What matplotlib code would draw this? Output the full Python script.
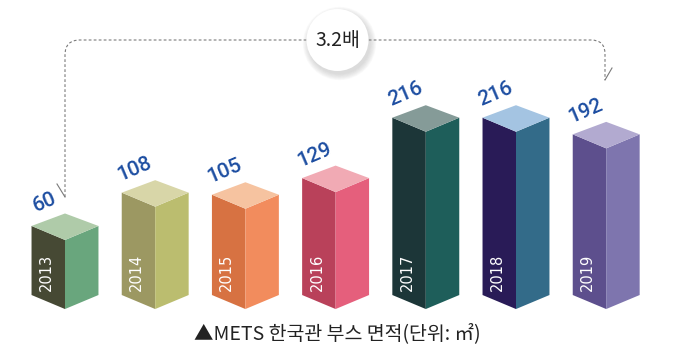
import matplotlib.pyplot as plt
from matplotlib.patches import Polygon, Circle, PathPatch
from matplotlib.path import Path

years = ["2013", "2014", "2015", "2016", "2017", "2018", "2019"]
areas = [60, 108, 105, 129, 216, 216, 192]

top_colors = ["#afcba9", "#d8d6a8", "#f6c3a0", "#f1aab4", "#859b98", "#a4c4e2", "#b2aad0"]
left_colors = ["#464934", "#9c9862", "#d77242", "#b9415a", "#1c3638", "#291b57", "#5d4f8d"]
right_colors = ["#69a67d", "#bbbd6f", "#f28c5d", "#e55f7c", "#1e5e5a", "#336b89", "#7e75ae"]

caption = "▲METS 한국관 부스 면적(단위: ㎡)"
ratio_label = "3.2배"

fig = plt.figure(figsize=(6.74, 3.59), dpi=100)

# main axes: x = bar index, y = area value
ax = fig.add_axes([0, 0, 1, 1])
ax.set_xlim(-0.7206, 6.7517)
ax.set_ylim(-131.7, 385.6)
ax.axis("off")

half = 0.371      # half width of a box (front edge to side edge)
front = 20.2      # how far the front corner sits below the side corners
back = 18.0       # how far the back corner sits above the side corners
floor = -39.5     # where the boxes stand

for i, (yr, v) in enumerate(zip(years, areas)):
    c = i
    left = [(c - half, floor), (c - half, v), (c, v - front), (c, floor - front)]
    right = [(c, floor - front), (c, v - front), (c + half, v), (c + half, floor)]
    top = [(c - half, v), (c, v + back), (c + half, v), (c, v - front)]
    ax.add_patch(Polygon(left, closed=True, facecolor=left_colors[i], edgecolor="none"))
    ax.add_patch(Polygon(right, closed=True, facecolor=right_colors[i], edgecolor="none"))
    ax.add_patch(Polygon(top, closed=True, facecolor=top_colors[i], edgecolor="none"))

    ax.text(c - half / 2 - 0.02, floor + 6, yr, rotation=90, ha="center", va="bottom",
            color="white", fontsize=10.5, family="DejaVu Sans")
    ax.text(c - half + 0.14, v + 34, str(v), rotation=23, ha="center", va="center",
            color="#1c4da1", fontsize=15, family="Roboto", fontweight="medium")

# overlay in pixel units for the arrow, the circle and the caption
ov = fig.add_axes([0, 0, 1, 1])
ov.set_xlim(0, 674)
ov.set_ylim(359, 0)
ov.axis("off")
ov.patch.set_alpha(0)

verts = [(65, 197), (65, 55), (65, 40), (80, 40), (591, 40), (605, 40), (605, 54), (605, 80)]
codes = [Path.MOVETO, Path.LINETO, Path.CURVE3, Path.CURVE3, Path.LINETO,
         Path.CURVE3, Path.CURVE3, Path.LINETO]
ov.add_patch(PathPatch(Path(verts, codes), facecolor="none", edgecolor="#7a7a7a",
                       lw=0.8, linestyle=(0, (2.5, 2))))
ov.plot([65, 57], [197, 184], color="#7a7a7a", lw=0.8)
ov.plot([605, 612], [80, 68], color="#7a7a7a", lw=0.8)

# circle with a soft shadow
for k in range(8):
    ov.add_patch(Circle((339.5, 43.5), 31 + k * 0.8, facecolor="#888888",
                        edgecolor="none", alpha=0.04))
ov.add_patch(Circle((337.5, 40), 31, facecolor="white", edgecolor="none"))
ov.text(337.5, 41, ratio_label, ha="center", va="center", fontsize=14,
        family=["Noto Sans CJK KR", "DejaVu Sans"], color="#222222")

ov.text(337, 334, caption, ha="center", va="center", fontsize=14,
        family=["Noto Sans CJK KR", "DejaVu Sans"], color="#222222")

fig.savefig("out.png", dpi=100)
